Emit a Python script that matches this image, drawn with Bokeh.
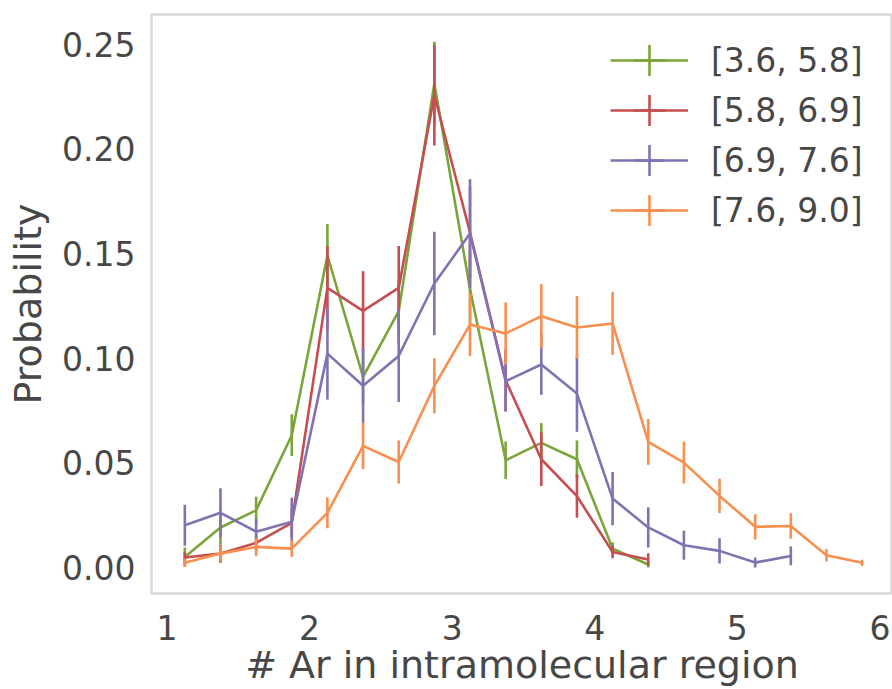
from bokeh.plotting import figure
from bokeh.models import ColumnDataSource, Range1d, Legend, LegendItem, FixedTicker, PrintfTickFormatter
from bokeh.embed import file_html
from bokeh.resources import INLINE

# bin centres (# Ar in intramolecular region)
x_bins = [1.125, 1.375, 1.625, 1.875, 2.125, 2.375, 2.625, 2.875, 3.125, 3.375,
          3.625, 3.875, 4.125, 4.375, 4.625, 4.875, 5.125, 5.375, 5.625, 5.875]

labels = ["[3.6, 5.8]", "[5.8, 6.9]", "[6.9, 7.6]", "[7.6, 9.0]"]
colors = ["#7ba43a", "#c44e52", "#8172b2", "#f98f4f"]

g_y = [0.0049, 0.019, 0.0272, 0.0631, 0.149, 0.091, 0.1224, 0.2312, 0.133, 0.0511,
       0.0594, 0.0516, 0.0089, 0.0013]
g_err = [0.0045, 0.008, 0.0065, 0.010, 0.015, 0.013, 0.015, 0.020, 0.018, 0.009,
         0.0095, 0.009, 0.003, 0.0015]
r_y = [0.0046, 0.0065, 0.0116, 0.0212, 0.1335, 0.1225, 0.1335, 0.2256, 0.160, 0.0894,
       0.0516, 0.034, 0.0073, 0.0037]
r_err = [0.0026, 0.0044, 0.004, 0.007, 0.020, 0.019, 0.020, 0.024, 0.022, 0.015,
         0.0128, 0.0104, 0.003, 0.003]
p_y = [0.0201, 0.026, 0.017, 0.0217, 0.1021, 0.0867, 0.101, 0.1356, 0.1595, 0.0889,
       0.0969, 0.083, 0.0328, 0.019, 0.0105, 0.0078, 0.0022, 0.0054]
p_err = [0.0098, 0.0117, 0.006, 0.0115, 0.022, 0.018, 0.022, 0.0247, 0.026, 0.0143,
         0.0145, 0.0183, 0.0127, 0.0096, 0.0069, 0.006, 0.0024, 0.0045]
o_y = [0.0021, 0.0065, 0.0097, 0.0089, 0.026, 0.058, 0.0503, 0.0867, 0.116, 0.1117,
       0.12, 0.1146, 0.1165, 0.0599, 0.05, 0.0341, 0.0193, 0.0197, 0.0057, 0.0021]
o_err = [0.002, 0.0038, 0.0044, 0.004, 0.0074, 0.0111, 0.0103, 0.0132, 0.015, 0.0149,
         0.0153, 0.015, 0.015, 0.011, 0.01, 0.0082, 0.006, 0.0061, 0.003, 0.0015]

x_ticks = [1, 2, 3, 4, 5, 6]
y_ticks = [0.0, 0.05, 0.10, 0.15, 0.20, 0.25]

series_y = [g_y, r_y, p_y, o_y]
series_err = [g_err, r_err, p_err, o_err]

TEXT = "#474747"
FONT = "DejaVu Sans"

p = figure(width=892, height=689, output_backend="svg", toolbar_location=None,
           x_range=Range1d(0.8913, 6.088), y_range=Range1d(-0.01257, 0.2642),
           min_border_left=151, min_border_right=0, min_border_top=14, min_border_bottom=96)

p.xgrid.visible = False
p.ygrid.visible = False
p.outline_line_color = "#d9d9d9"
p.outline_line_width = 2.5
p.background_fill_color = "white"
p.border_fill_color = "white"

for ax in (p.xaxis[0], p.yaxis[0]):
    ax.axis_line_color = None
    ax.major_tick_line_color = None
    ax.minor_tick_line_color = None
    ax.major_tick_in = 0
    ax.major_tick_out = 0
    ax.minor_tick_in = 0
    ax.minor_tick_out = 0
    ax.major_label_text_font = FONT
    ax.major_label_text_font_size = "33px"
    ax.major_label_text_color = TEXT
    ax.axis_label_text_font = FONT
    ax.axis_label_text_font_size = "38px"
    ax.axis_label_text_color = TEXT
    ax.axis_label_text_font_style = "normal"

p.xaxis.ticker = FixedTicker(ticks=x_ticks)
p.yaxis.ticker = FixedTicker(ticks=y_ticks)
p.yaxis.formatter = PrintfTickFormatter(format="%.2f")
p.xaxis.major_label_standoff = 21
p.yaxis.major_label_standoff = 16
p.xaxis.axis_label = "# Ar in intramolecular region"
p.yaxis.axis_label = "Probability"
p.xaxis.axis_label_standoff = 0
p.yaxis.axis_label_standoff = 9

for k, (lab, col, ys, es) in enumerate(zip(labels, colors, series_y, series_err)):
    n = len(ys)
    xs = x_bins[:n]
    src = ColumnDataSource(dict(
        x=xs, y=ys,
        lo=[y - e for y, e in zip(ys, es)],
        hi=[y + e for y, e in zip(ys, es)],
    ))
    lr = p.line("x", "y", source=src, line_color=col, line_width=2.6)
    p.segment(x0="x", y0="lo", x1="x", y1="hi", source=src, line_color=col, line_width=2.6)
    # legend proxy: a '+' marker over the line, like an errorbar key
    mr = p.scatter(x=[xs[0]], y=[ys[0]], marker="cross", size=30,
                   line_color=col, line_width=2.6)
    mr.visible = False
    # one single-item legend per row, stacked 50 px apart
    leg = Legend(items=[LegendItem(label=lab, renderers=[lr, mr])],
                 location=(459, 492 - 50 * k), orientation="vertical",
                 glyph_width=78, glyph_height=82, label_height=82, spacing=0,
                 label_standoff=23, padding=0, margin=0,
                 border_line_color=None, background_fill_alpha=0,
                 label_text_font=FONT, label_text_font_size="33px",
                 label_text_color=TEXT)
    p.add_layout(leg, "center")

open("out.html", "w").write(file_html(p, INLINE))
